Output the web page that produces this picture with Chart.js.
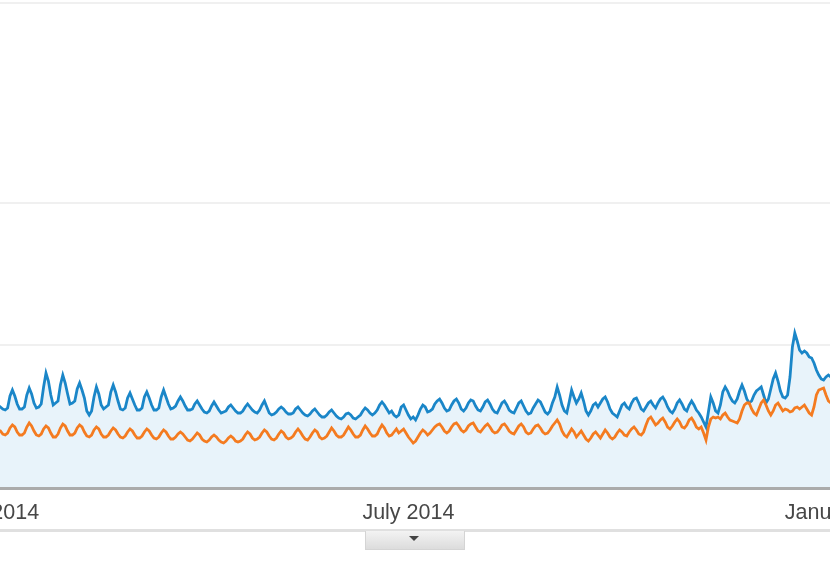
<!DOCTYPE html>
<html><head><meta charset="utf-8">
<script src="https://cdn.jsdelivr.net/npm/chart.js@4"></script>
<style>
html,body{margin:0;padding:0;background:#fff;}
#frame{position:relative;width:830px;height:568px;overflow:hidden;background:#fff;}
#wrap{position:absolute;left:-150px;top:0;width:1108px;height:568px;}
#rule{position:absolute;left:0;top:529px;width:830px;height:3px;background:#e0e0e0;}
#tab{position:absolute;left:365px;top:531px;width:100px;height:19px;background:linear-gradient(#f3f3f3,#dcdcdc);border:1px solid #d4d4d4;border-top:none;box-sizing:border-box;}
#tab:after{content:'';position:absolute;left:43px;top:5px;border-left:5px solid transparent;border-right:5px solid transparent;border-top:5px solid #444;}
</style></head><body>
<div id="frame"><div id="wrap"><canvas id="c"></canvas></div><div id="rule"></div><div id="tab"></div></div>
<script>
// first value is day 10 counted from 1 January 2014 (11 Jan 2014), one value per day
const firstDay = 10;
const tickDays = [0, 181, 365];
const tickLabels = ['January 2014', 'July 2014', 'January 2015'];
const gridValues = [0, 142, 284, 484];

const blueSeries = [
  82, 80, 78,
  77, 79, 91, 97, 91, 83, 78,
  78, 80, 92, 99, 93, 84, 79,
  80, 83, 100, 114, 106, 92, 82,
  84, 86, 102, 112, 104, 93, 83,
  84, 86, 98, 104, 97, 89, 76,
  72, 76, 90, 100, 93, 82, 78,
  80, 82, 95, 102, 95, 86, 78,
  77, 79, 89, 94, 88, 82, 77,
  77, 79, 90, 95, 89, 82, 77,
  77, 79, 90, 97, 90, 83, 78,
  79, 81, 86, 90, 86, 81, 77,
  77, 78, 83, 86, 82, 78, 75,
  74, 76, 81, 85, 81, 77, 74,
  75, 76, 80, 82, 79, 76, 74,
  74, 76, 80, 83, 80, 77, 75,
  74, 77, 82, 86, 80, 74, 72,
  73, 75, 78, 80, 78, 75, 73,
  73, 74, 78, 80, 77, 74, 72,
  71, 73, 76, 78, 75, 72, 70,
  70, 72, 75, 77, 74, 71, 69,
  68, 70, 73, 74, 72, 69, 68,
  70, 72, 76, 79, 77, 74, 72,
  74, 77, 82, 85, 82, 78, 74,
  76, 72, 70, 72,
  80, 82, 77, 72, 68, 70, 67, 72,
  78, 82, 80, 75, 76, 78, 83, 86, 88, 84,
  79, 76, 77, 82, 86, 88, 84, 78, 76, 79,
  84, 87, 86, 81, 77, 76, 80, 85, 87, 83,
  78, 75, 74, 79, 84, 86, 82, 77, 75, 74,
  79, 84, 86, 81, 76, 73, 74, 79, 83, 87,
  85, 80, 75, 73, 76, 84,
  90, 100, 92, 82, 76, 74, 85, 97, 90, 84,
  88, 94, 86, 76, 72, 76, 82, 84, 80, 84,
  88, 90, 85, 78, 74, 72, 70, 76, 82, 84,
  80, 78, 84, 88, 89, 84, 78, 76, 80, 84,
  86, 82, 79, 84, 88, 90, 86, 80, 76, 74,
  78, 84, 87, 83, 78, 76, 82, 86,
  82, 77, 74, 70, 65, 60, 75, 90, 84, 76,
  74, 82, 95, 100, 96, 90, 86, 84, 88, 96,
  102, 96, 88, 84, 86, 92, 96, 98, 100, 92,
  84, 88, 98, 108, 114, 106, 96, 90, 89, 92,
  110, 140, 154, 146, 137, 134, 136, 134, 130, 129,
  124, 117, 112, 108, 107, 110, 112, 110, 108
];

const orangeSeries = [
  57, 56, 53,
  52, 54, 59, 62, 60, 55, 52,
  52, 54, 60, 64, 61, 56, 52,
  51, 53, 58, 61, 59, 54, 50,
  50, 53, 59, 63, 61, 56, 52,
  52, 54, 59, 62, 60, 55, 51,
  50, 52, 57, 60, 58, 53, 50,
  50, 52, 56, 59, 57, 53, 50,
  49, 51, 55, 58, 56, 52, 49,
  49, 51, 55, 58, 56, 52, 49,
  48, 50, 54, 57, 55, 51, 48,
  48, 50, 53, 55, 53, 50, 47,
  46, 48, 51, 54, 52, 48, 46,
  45, 47, 50, 52, 50, 47, 45,
  44, 46, 49, 51, 49, 46, 45,
  46, 48, 52, 55, 53, 49, 47,
  48, 50, 54, 57, 55, 51, 48,
  47, 49, 53, 56, 54, 50, 48,
  49, 51, 55, 58, 55, 51, 48,
  47, 50, 54, 57, 55, 50, 48,
  49, 51, 55, 59, 56, 52, 50,
  50, 52, 56, 60, 57, 53, 50,
  50, 52, 57, 61, 58, 54, 51,
  51, 53, 58, 62, 59, 54, 51,
  52, 55, 58, 54,
  56, 58, 54, 50, 47, 44, 46, 50,
  54, 57, 55, 52, 54, 57, 60, 62, 63, 60,
  56, 54, 56, 60, 63, 64, 61, 57, 55, 57,
  61, 63, 64, 60, 56, 55, 58, 61, 63, 60,
  56, 54, 55, 58, 62, 63, 60, 56, 54, 53,
  57, 61, 63, 60, 55, 53, 54, 58, 61, 62,
  59, 55, 53, 54, 57, 61,
  64, 67, 63, 56, 52, 50, 54, 58, 55, 50,
  53, 56, 52, 48, 46, 49, 53, 55, 52, 49,
  53, 57, 54, 50, 48, 50, 54, 57, 55, 52,
  51, 55, 58, 60, 57, 53, 52, 55, 62, 68,
  70, 66, 62, 64, 67, 69, 65, 60, 58, 61,
  65, 68, 65, 60, 59, 62, 67, 69,
  65, 60, 58, 60, 54, 47, 60, 68, 70, 69,
  70, 68, 72, 74, 70, 67, 66, 65, 64, 68,
  76, 82, 84, 84, 78, 74, 72, 78, 84, 87,
  82, 76, 72, 76, 82, 84, 80, 76, 78, 77,
  75, 76, 79, 80, 78, 80, 82, 78, 74, 72,
  80, 92, 97, 98, 99, 92, 86, 84, 86
];

const toPoints = arr => arr.map((v, i) => ({ x: firstDay + i, y: v }));

new Chart(document.getElementById('c'), {
  type: 'line',
  data: {
    datasets: [
      { label: 'Orange', data: toPoints(orangeSeries), borderColor: '#f47b20', borderWidth: 2.8,
        pointRadius: 0, fill: false, tension: 0, order: 0 },
      { label: 'Blue', data: toPoints(blueSeries), borderColor: '#1a86c8', backgroundColor: '#e8f3fa',
        borderWidth: 2.8, pointRadius: 0, fill: 'origin', tension: 0, order: 1 }
    ]
  },
  options: {
    responsive: true, maintainAspectRatio: false, animation: false, devicePixelRatio: 1,
    layout: { padding: { top: 3, left: 0, right: 0, bottom: 0 } },
    plugins: { legend: { display: false }, tooltip: { enabled: false } },
    scales: {
      x: {
        type: 'linear', min: -124 / 2.4, max: 410,
        afterBuildTicks: s => { s.ticks = tickDays.map(v => ({ value: v })); },
        afterFit: s => { s.height = 81; },
        grid: { display: false, drawTicks: false },
        border: { display: true, color: '#ababab', width: 5 },
        ticks: {
          autoSkip: false, maxRotation: 0, minRotation: 0, padding: 13, color: '#474747',
          font: { family: 'Liberation Sans, Arial, sans-serif', size: 21.5 },
          callback: v => { const i = tickDays.indexOf(v); return i >= 0 ? tickLabels[i] : ''; }
        }
      },
      y: {
        min: 0, max: 484,
        afterBuildTicks: s => { s.ticks = gridValues.map(v => ({ value: v })); },
        afterFit: s => { s.width = 0; },
        ticks: { display: false },
        grid: { drawTicks: false, lineWidth: 2,
          color: c => (c.tick && c.tick.value === 0) ? 'rgba(0,0,0,0)' : '#f0f0f0' },
        border: { display: false }
      }
    }
  }
});
</script>
</body></html>
